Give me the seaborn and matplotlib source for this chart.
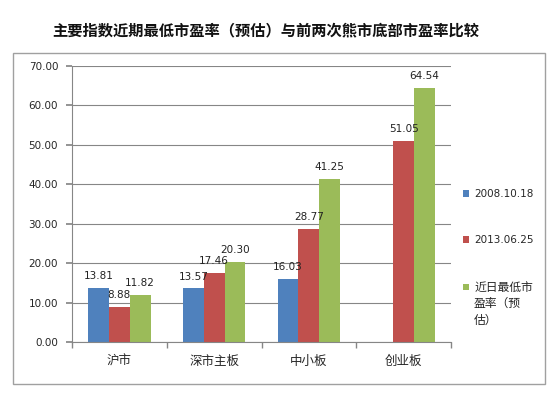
import numpy as np
import pandas as pd
import seaborn as sns
import matplotlib.pyplot as plt
from matplotlib.patches import Rectangle
from matplotlib.ticker import FixedLocator


# 数据
categories = ['沪市', '深市主板', '中小板', '创业板']
series_names = ['2008.10.18', '2013.06.25', '近日最低市盈率（预估）']
legend_labels = ['2008.10.18', '2013.06.25', '近日最低市']
legend_rest = '盈率（预\n估）'
pe_2008 = [13.81, 13.57, 16.03, np.nan]
pe_2013 = [8.88, 17.46, 28.77, 51.05]
pe_recent = [11.82, 20.30, 41.25, 64.54]
colors = ['#4F81BD', '#C0504D', '#9BBB59']

df = pd.DataFrame({'板块': categories,
                   series_names[0]: pe_2008,
                   series_names[1]: pe_2013,
                   series_names[2]: pe_recent})
long_df = df.melt(id_vars='板块', var_name='时间', value_name='市盈率').dropna()

sns.set_theme(style='white')
plt.rcParams['font.family'] = ['DejaVu Sans', 'Noto Sans CJK SC']
plt.rcParams['axes.unicode_minus'] = False

fig = plt.figure(figsize=(5.58, 3.94), dpi=100)
ax = fig.add_axes([72 / 558, 1 - 342 / 394, (451 - 72) / 558, (342 - 66) / 394])

sns.barplot(data=long_df, x='板块', y='市盈率', hue='时间',
            order=categories, hue_order=series_names, palette=colors,
            saturation=1, width=0.66, errorbar=None, linewidth=0, ax=ax)

for c in ax.containers:
    ax.bar_label(c, fmt='%.2f', padding=5, fontsize=7.5, color='#222222')

# 坐标轴
grey = '#868686'
ax.set_ylim(0, 70)
ax.set_yticks(np.arange(0, 71, 10))
ax.set_yticklabels([f'{v:.2f}' for v in np.arange(0, 71, 10)], fontsize=7.5)
ax.set_xlim(-0.5, len(categories) - 0.5)
ax.set_xlabel('')
ax.set_ylabel('')
ax.tick_params(axis='x', which='major', length=0, pad=9, labelsize=9)
ax.xaxis.set_minor_locator(FixedLocator(np.arange(-0.5, len(categories), 1)))
ax.tick_params(axis='x', which='minor', length=4, color=grey, direction='out', bottom=True)
ax.tick_params(axis='y', length=4, color=grey, direction='out', left=True, pad=6)
ax.yaxis.grid(True, color=grey, linewidth=0.8)
ax.set_axisbelow(True)
for s in ['top', 'right']:
    ax.spines[s].set_visible(False)
for s in ['left', 'bottom']:
    ax.spines[s].set_color(grey)
    ax.spines[s].set_linewidth(0.8)

# 图例
handles, _ = ax.get_legend_handles_labels()
leg = ax.legend(handles, legend_labels, loc='upper left',
                bbox_to_anchor=(459 / 558, 1 - 185 / 394), bbox_transform=fig.transFigure,
                frameon=False, fontsize=7.5, handlelength=0.55, handleheight=0.55,
                handletextpad=0.5, labelspacing=3.45, borderaxespad=0)
leg.get_texts()[2].set_fontsize(8.5)

# 图例第三项的后两行
fig.canvas.draw()
bb = leg.get_texts()[2].get_window_extent()
W, H = fig.bbox.width, fig.bbox.height
fig.text(bb.x0 / W, (bb.y0 - 3) / H, legend_rest, ha='left', va='top',
         fontsize=8.5, linespacing=1.4, color='#222222')

# 标题和外框
fig.text(266 / 558, 1 - 30 / 394, '主要指数近期最低市盈率（预估）与前两次熊市底部市盈率比较',
         ha='center', va='center', fontsize=11, fontweight='bold',
         family=['Noto Sans CJK SC'], color='#111111')
fig.patches.append(Rectangle((13 / 558, 1 - 384 / 394), 532 / 558, 331 / 394,
                             transform=fig.transFigure, fill=False,
                             edgecolor='#A0A0A0', linewidth=1))

fig.savefig('out.png', dpi=100)
